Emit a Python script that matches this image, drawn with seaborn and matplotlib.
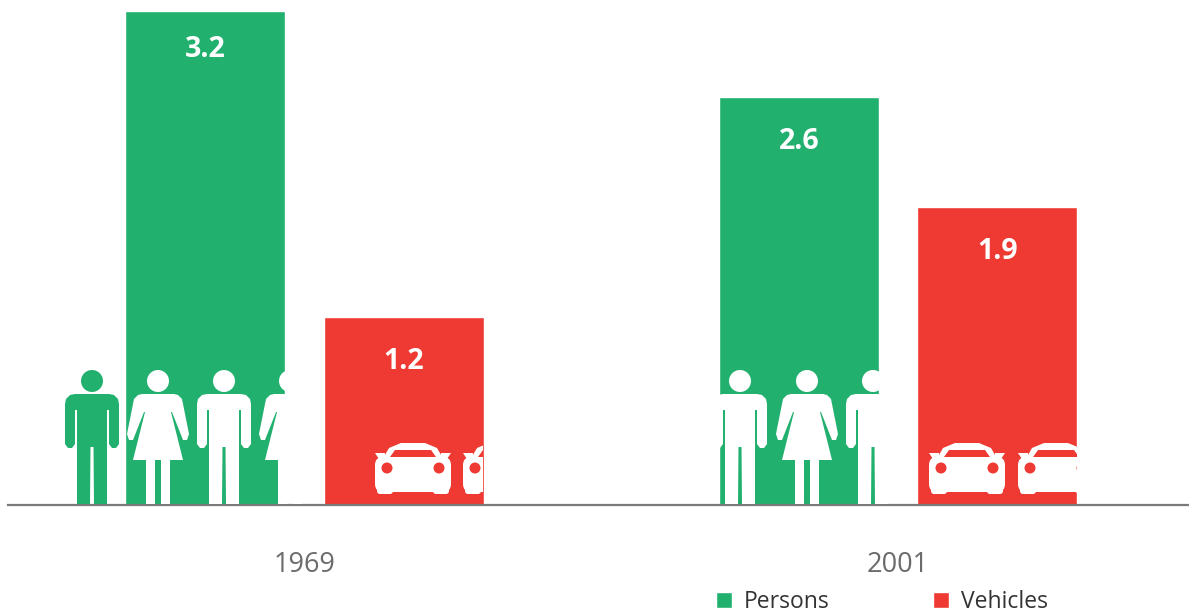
import pandas as pd
import matplotlib.pyplot as plt
import seaborn as sns
from matplotlib.patches import Polygon, Circle, FancyBboxPatch, Rectangle

years = ['1969', '2001']
series = ['Persons', 'Vehicles']

# printed labels
persons_labels = ['3.2', '2.6']
vehicles_labels = ['1.2', '1.9']

# bar heights (not quite proportional to the labels)
persons_heights = [3.185, 2.63]
vehicles_heights = [1.21, 1.92]

GREEN = '#22b06f'
RED = '#ee3a32'
W, H = 1189, 613
BASE = 505

sns.set_theme(style='white')
plt.rcParams['font.family'] = ['Open Sans', 'DejaVu Sans']

df = pd.DataFrame({
    'year': years * 2,
    'kind': [series[0]] * 2 + [series[1]] * 2,
    'height': persons_heights + vehicles_heights,
})

fig = plt.figure(figsize=(W / 100, H / 100), dpi=100)
ax = fig.add_axes([8 / W, (H - BASE) / H, (W - 8) / W, BASE / H])
ax.patch.set_alpha(0)

sns.barplot(data=df, x='year', y='height', hue='kind', order=years, hue_order=series,
            palette=[GREEN, RED], width=0.669, gap=0.195, saturation=1, ax=ax)

ax.set_xlim((8 - 304.5) / 593.5, (W - 304.5) / 593.5)
ax.set_ylim(0, BASE / 155)
ax.set_xlabel('')
ax.set_ylabel('')
ax.set_yticks([])
ax.tick_params(axis='x', length=0, pad=33, labelsize=19.5, labelcolor='#6b6b6b')
sns.despine(ax=ax, left=True)
ax.spines['bottom'].set_color('#77797b')
ax.spines['bottom'].set_linewidth(1.6)

# value labels inside the bars
for cont, labs in zip(ax.containers, [persons_labels, vehicles_labels]):
    ax.bar_label(cont, labels=labs, padding=-42, color='white', fontsize=20.5, fontweight='bold')
# the 3.2 label sits a bit closer to the top of its bar
ax.texts[0].xyann = (0, -38)

handles, labels = ax.get_legend_handles_labels()
ax.get_legend().remove()
fig.legend(handles, labels, loc='lower left', bbox_to_anchor=(716 / W, -0.002), ncols=2,
           frameon=False, fontsize=16.5, handlelength=0.68, handleheight=0.68,
           handletextpad=0.55, columnspacing=4.5, borderpad=0, borderaxespad=0,
           labelcolor='#333333')

# pictograms go on a pixel-scaled overlay
ov = fig.add_axes([0, 0, 1, 1])
ov.set_xlim(0, W)
ov.set_ylim(H, 0)
ov.axis('off')
ov.patch.set_alpha(0)


def mirror(half):
    return half + [(-x, y) for x, y in reversed(half)]


MAN = mirror([(0, 394), (17, 394), (22, 395), (26, 399), (27, 404), (27, 444), (24, 448), (20, 448), (17, 444),
              (17, 410), (15, 410), (15, 504), (2, 504), (1.5, 447), (0, 447)])
WOMAN = mirror([(0, 394), (16, 394), (20, 395), (24, 399), (31, 434), (29, 440), (25, 440), (14, 412),
                (13, 412), (25, 460), (12, 460), (12, 504), (3, 504), (3, 460), (0, 460)])


def person(cx, shape, color='white'):
    ov.add_patch(Circle((cx, 381), 11, color=color, lw=0))
    ov.add_patch(Polygon([(cx + x, y) for x, y in shape], closed=True, color=color, lw=0))


def car(cx, bar_color, right):
    clip = Rectangle((0, 0), right, H, transform=ov.transData)
    parts = [
        FancyBboxPatch((cx - 34, 461), 68, 27, boxstyle='round,pad=4,rounding_size=8', color='white', lw=0),
        Polygon([(cx - 24, 448), (cx - 12, 443), (cx + 12, 443), (cx + 24, 448), (cx + 32, 462), (cx - 32, 462)],
                closed=True, color='white', lw=0),
        Polygon([(cx - 38, 453), (cx - 28, 453), (cx - 28, 459), (cx - 34, 459)], closed=True, color='white', lw=0),
        Polygon([(cx + 38, 453), (cx + 28, 453), (cx + 28, 459), (cx + 34, 459)], closed=True, color='white', lw=0),
        Polygon([(cx - 18, 450), (cx + 18, 450), (cx + 23, 457), (cx - 23, 457)], closed=True, color=bar_color, lw=0),
        Circle((cx - 26, 468), 5.5, color=bar_color, lw=0),
        Circle((cx + 26, 468), 5.5, color=bar_color, lw=0),
        FancyBboxPatch((cx - 36, 486), 16, 8, boxstyle='round,pad=0,rounding_size=3', color='white', lw=0),
        FancyBboxPatch((cx + 20, 486), 16, 8, boxstyle='round,pad=0,rounding_size=3', color='white', lw=0),
    ]
    for p in parts:
        ov.add_patch(p)
        p.set_clip_path(clip)


person(92, MAN, GREEN)
person(158, WOMAN)
person(224, MAN)
person(290, WOMAN)
person(740, MAN)
person(807, WOMAN)
person(873, MAN)

car(413, RED, 483)
car(501, RED, 483)
car(967, RED, 1077)
car(1056, RED, 1077)

fig.savefig('out.png', dpi=100)
